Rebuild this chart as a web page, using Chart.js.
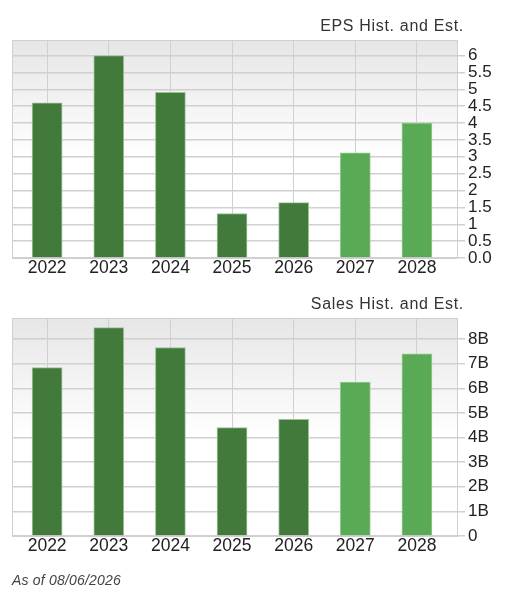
<!DOCTYPE html>
<html>
<head>
<meta charset="utf-8">
<script src="https://cdn.jsdelivr.net/npm/chart.js@4"></script>
<style>
  body { margin: 0; background: #fff; font-family: "Liberation Sans", sans-serif; color: #333; }
  #page { position: relative; width: 517px; height: 600px; overflow: hidden; }
  canvas { position: absolute; left: 0; }
  .title { position: absolute; right: 53px; font-size: 16px; line-height: 18px; letter-spacing: 0.68px; white-space: nowrap; }
  #note { position: absolute; left: 12px; top: 572px; font-size: 14px; line-height: 16px; letter-spacing: 0.2px; font-style: italic; color: #444; }
</style>
</head>
<body>
<div id="page">
  <canvas id="eps" width="517" height="290" style="top:0"></canvas>
  <canvas id="sales" width="517" height="290" style="top:278px"></canvas>
  <div class="title" style="top:17px">EPS Hist. and Est.</div>
  <div class="title" style="top:295px">Sales Hist. and Est.</div>
  <div id="note">As of 08/06/2026</div>
</div>
<script>
const years = [2022, 2023, 2024, 2025, 2026, 2027, 2028];
const epsValues = [4.6, 6.0, 4.91, 1.32, 1.64, 3.12, 4.0];
const salesValues = [6.85, 8.47, 7.66, 4.41, 4.74, 6.26, 7.4];
const epsTicks = [0, 0.5, 1, 1.5, 2, 2.5, 3, 3.5, 4, 4.5, 5, 5.5, 6];
const epsTickLabels = ['0.0', '0.5', '1', '1.5', '2', '2.5', '3', '3.5', '4', '4.5', '5', '5.5', '6'];
const salesTicks = [0, 1, 2, 3, 4, 5, 6, 7, 8];
const salesTickLabels = ['0', '1B', '2B', '3B', '4B', '5B', '6B', '7B', '8B'];

const DARK = '#417a3b';
const LIGHT = '#5aaa55';
const GRID = '#d0d0d0';

// plot background: grey at the top fading to white, with a frame on all sides
const plotBackground = {
  id: 'plotBackground',
  beforeDraw(chart) {
    const { ctx, chartArea: a } = chart;
    const g = ctx.createLinearGradient(0, a.top, 0, a.bottom);
    g.addColorStop(0, '#e6e6e6');
    g.addColorStop(0.55, '#ffffff');
    ctx.save();
    ctx.fillStyle = g;
    ctx.fillRect(a.left, a.top, a.right - a.left, a.bottom - a.top);
    ctx.strokeStyle = GRID;
    ctx.lineWidth = 1;
    ctx.strokeRect(a.left + 0.5, a.top + 0.5, a.right - a.left, a.bottom - a.top);
    ctx.restore();
  }
};

function createBarChart(canvasId, values, ticks, tickLabels, yMax, paddingTop) {
  const ctx = document.getElementById(canvasId).getContext('2d');
  return new Chart(ctx, {
    type: 'bar',
    data: {
      datasets: [{
        data: years.map((y, i) => ({ x: y, y: values[i] })),
        backgroundColor: years.map(y => y >= 2027 ? LIGHT : DARK),
        borderColor: years.map(y => y >= 2027 ? '#94cc90' : '#9cc098'),
        borderWidth: 1,
        barThickness: 30
      }]
    },
    plugins: [plotBackground],
    options: {
      responsive: false,
      animation: false,
      layout: { padding: { left: 12, top: paddingTop, right: 0, bottom: 8 } },
      plugins: { legend: { display: false }, tooltip: { enabled: false } },
      scales: {
        x: {
          type: 'linear',
          offset: false,
          min: 2021.43,
          max: 2028.65,
          afterBuildTicks(axis) { axis.ticks = years.map(y => ({ value: y })); },
          afterFit(axis) { axis.height = 24; },
          grid: { color: GRID, drawTicks: false, offset: false },
          border: { color: GRID },
          ticks: {
            autoSkip: false,
            maxRotation: 0,
            padding: 0,
            color: '#222',
            font: { family: 'Liberation Sans', size: 17.5 },
            callback: v => String(v)
          }
        },
        y: {
          position: 'right',
          min: 0,
          max: yMax,
          afterBuildTicks(axis) { axis.ticks = ticks.map(v => ({ value: v })); },
          afterFit(axis) { axis.width = 60; },
          grid: { color: GRID, lineWidth: 1.5, tickLength: 8, tickColor: GRID },
          border: { color: GRID },
          ticks: {
            autoSkip: false,
            padding: 3,
            color: '#222',
            font: { family: 'Liberation Sans', size: 17 },
            callback: v => tickLabels[ticks.indexOf(v)]
          }
        }
      }
    }
  });
}

createBarChart('eps', epsValues, epsTicks, epsTickLabels, 6.46, 40);
createBarChart('sales', salesValues, salesTicks, salesTickLabels, 8.86, 40);
</script>
</body>
</html>
